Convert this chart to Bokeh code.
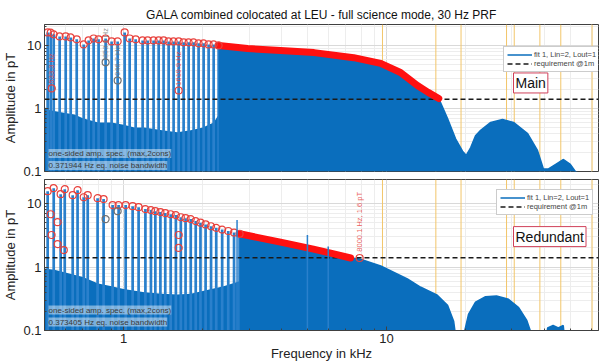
from bokeh.plotting import figure
from bokeh.layouts import column
from bokeh.models import (FixedTicker, CustomJSTickFormatter, Label, Legend,
                          LegendItem, Span, Range1d)
from bokeh.embed import file_html
from bokeh.resources import INLINE

# ---------------- texts ----------------
title_text = "GALA combined colocated at LEU - full science mode, 30 Hz PRF"
x_label = "Frequency in kHz"
y_label = "Amplitude in pT"
legend_fit = "fit 1, Lin=2, Lout=1"
legend_req = "requirement @1m"
note_line1 = "one-sided amp. spec. (max,2cons)"
main_note_line2 = "0.371944 Hz eq. noise bandwidth"
red_note_line2 = "0.373405 Hz eq. noise bandwidth"
main_tag = "Main"
red_tag = "Redundant"

# ---------------- axes ----------------
x_min_khz, x_max_khz = 0.5, 64.0
y_min_pT = 0.1
y_max_main, y_max_red = 21.5, 24.0
requirement_pT = 1.4
x_major_ticks = [1, 10]
x_minor_ticks = [0.5, 0.6, 0.7, 0.8, 0.9, 2, 3, 4, 5, 6, 7, 8, 9, 20, 30, 40, 50, 60]
y_major_ticks = [0.1, 1, 10]
y_minor_ticks = [0.2, 0.3, 0.4, 0.5, 0.6, 0.7, 0.8, 0.9, 2, 3, 4, 5, 6, 7, 8, 9, 20]

# orange marker lines (kHz)
orange_khz = [9.65, 15.4, 19.2, 28.6, 30.6, 38.3, 46.0, 60.5]

# ---------------- Main panel ----------------
main_floor_khz = [0.5, 0.52, 0.55, 0.6, 0.65, 0.7, 0.8, 0.9, 1.0, 1.1, 1.2, 1.4, 1.6, 1.8, 2.0, 2.2, 2.3]
main_floor_pT = [1.05, 0.95, 0.9, 0.85, 0.8, 0.7, 0.6, 0.6, 0.55, 0.5, 0.5, 0.45, 0.42, 0.45, 0.5, 0.6, 0.8]
main_peak_khz = [0.514, 0.528, 0.542, 0.571, 0.602, 0.629, 0.663, 0.705, 0.736, 0.769, 0.803,
                 0.854, 0.900, 0.949, 1.009, 1.054, 1.111, 1.181, 1.234, 1.300, 1.359, 1.419,
                 1.483, 1.549, 1.619, 1.691, 1.767, 1.846, 1.928, 2.015, 2.105, 2.200, 2.298]
main_peak_pT = [16.1, 16.0, 15.0, 13.9, 13.9, 13.4, 12.5, 10.4, 12.0, 12.9, 12.5,
                12.9, 11.6, 11.6, 16.1, 12.9, 12.5, 12.0, 12.0, 12.0, 12.0, 12.0,
                11.6, 11.6, 11.6, 11.2, 11.2, 11.2, 10.8, 10.8, 10.4, 10.4, 10.0]
main_env_khz = [2.3, 2.96, 3.95, 5.3, 7.5, 9.5, 11.3, 13.1, 14.4, 15.8]
main_env_pT = [10.0, 8.95, 8.3, 7.7, 6.4, 5.2, 3.73, 2.32, 1.8, 1.44]
main_tail_khz = [17.06, 18.3, 19.45, 20.1, 20.9, 21.8, 22.8, 24.9, 27.6, 30.4, 34.4, 37.5,
                 39.5, 41.3, 44.0, 47.1, 50.0, 53.2]
main_tail_pT = [0.69, 0.33, 0.21, 0.18, 0.24, 0.37, 0.45, 0.6, 0.67, 0.6, 0.4, 0.216,
                0.11, 0.11, 0.13, 0.155, 0.13, 0.09]
main_red_tip_khz = [0.533, 1.619]
main_red_tip_pT = [2.08, 1.93]
main_grey_tip_khz = [0.854, 0.949]
main_grey_tip_pT = [5.4, 2.78]
main_tip_text_khz = [0.533, 1.619, 0.854, 0.949]
main_tip_text_pT = [2.5, 2.3, 6.3, 3.3]
main_tip_text = ["533.3 Hz", "1619.9 Hz", "853.3 Hz", "946.7 Hz"]
main_tip_text_color = ["#e8413c", "#e8413c", "#777777", "#777777"]

# ---------------- Redundant panel ----------------
red_floor_khz = [0.5, 0.55, 0.6, 0.7, 0.8, 0.9, 1.0, 1.2, 1.4, 1.6, 1.8, 2.0, 2.4, 2.76]
red_floor_pT = [0.95, 0.9, 0.82, 0.7, 0.55, 0.5, 0.45, 0.4, 0.38, 0.37, 0.38, 0.42, 0.5, 0.6]
red_peak_khz = [0.514, 0.542, 0.576, 0.597, 0.640, 0.668, 0.705, 0.730, 0.796, 0.839, 0.908,
                0.957, 1.018, 1.082, 1.14, 1.21, 1.27, 1.32, 1.38, 1.44, 1.51, 1.58, 1.65,
                1.72, 1.80, 1.88, 1.96, 2.05, 2.15, 2.25, 2.37, 2.5, 2.63, 2.76]
red_peak_pT = [15.7, 17.5, 14.1, 16.9, 13.6, 16.3, 12.6, 13.6, 12.2, 11.8, 9.5,
               9.5, 9.5, 9.1, 8.8, 8.2, 7.9, 7.6, 7.35, 7.1, 6.8, 6.6, 6.1,
               5.9, 5.7, 5.3, 5.0, 4.7, 4.4, 4.15, 3.9, 3.7, 3.5, 3.35]
red_env_khz = [2.76, 3.32, 3.95, 5.27, 6.13, 7.3]
red_env_pT = [3.35, 2.86, 2.47, 1.92, 1.66, 1.39]
red_tail_khz = [7.9, 9.5, 12.0, 13.5, 15.6, 17.06, 18.0, 18.6, 19.6, 20.5, 21.8, 23.8, 26.2,
                29.1, 31.8, 34.1, 35.2, 36.0, 40.0, 41.0, 43.0, 45.0, 47.0, 48.0]
red_tail_pT = [1.34, 1.04, 0.65, 0.48, 0.36, 0.25, 0.14, 0.05, 0.08, 0.18, 0.28, 0.34, 0.35,
               0.31, 0.23, 0.146, 0.1, 0.05, 0.05, 0.11, 0.12, 0.11, 0.12, 0.05]
red_spur_khz = [2.7, 5.0, 6.0]
red_spur_pT = [5.5, 3.2, 2.1]
red_red_tip_khz = [0.528, 0.561, 0.532, 0.561, 0.592, 1.62, 1.62, 7.9]
red_red_tip_pT = [6.8, 5.1, 3.2, 2.3, 1.85, 3.2, 2.0, 1.39]
red_grey_tip_khz = [0.854, 0.949]
red_grey_tip_pT = [5.7, 7.6]
red_tip_text_khz = [7.9]
red_tip_text_pT = [1.75]
red_tip_text = ["8000.1 Hz, 1.6 pT"]
red_tip_text_color = ["#e8413c"]

# ---------------- style ----------------
FONT = "Liberation Sans"
BLUE = "#0a6ebd"
SPIKE = "#2a80cc"
RED = "#ff1010"
CIRC = "#e8413c"
GREY = "#707070"
ORANGE = "#f2c66a"


def style_axis(ax):
    ax.major_tick_in = 4
    ax.major_tick_out = 0
    ax.minor_tick_in = 2
    ax.minor_tick_out = 0
    ax.axis_line_color = "#404040"
    ax.major_tick_line_color = "#404040"
    ax.minor_tick_line_color = "#404040"
    ax.major_label_text_font = FONT
    ax.major_label_text_font_size = "13px"
    ax.major_label_text_color = "#222222"
    ax.axis_label_text_font = FONT
    ax.axis_label_text_font_size = "13px"
    ax.axis_label_text_font_style = "normal"
    ax.axis_label_text_color = "#222222"


def make_panel(height, top, bottom, y_max, floor_k, floor_v, peak_k, peak_v,
               env_k, env_v, tail_k, tail_v, red_tip, grey_tip, tips, legend_xy,
               tag, tag_xy, note2, note_y, title=None, show_x=False):
    p = figure(width=606, height=height, x_axis_type="log", y_axis_type="log",
               x_range=Range1d(x_min_khz, x_max_khz), y_range=Range1d(y_min_pT, y_max),
               output_backend="svg", toolbar_location=None, title=title,
               x_axis_location="below" if show_x else None,
               min_border_left=44, min_border_right=8, min_border_top=top,
               min_border_bottom=bottom)
    p.background_fill_color = "white"
    p.border_fill_color = "white"
    p.outline_line_color = "#404040"
    if title:
        p.title.text_font = FONT
        p.title.text_font_size = "12px"
        p.title.text_font_style = "normal"
        p.title.align = "center"
        p.title.standoff = 5
        p.title.text_color = "#111111"

    xt = FixedTicker(ticks=x_major_ticks, minor_ticks=x_minor_ticks)
    yt = FixedTicker(ticks=y_major_ticks, minor_ticks=y_minor_ticks)
    p.yaxis.ticker = yt
    p.yaxis.formatter = CustomJSTickFormatter(code="return String(tick);")
    style_axis(p.yaxis[0])
    p.yaxis.axis_label = y_label
    p.yaxis.major_label_standoff = 3
    p.yaxis.axis_label_standoff = 2
    if show_x:
        p.xaxis.ticker = xt
        p.xaxis.formatter = CustomJSTickFormatter(code="return String(tick);")
        style_axis(p.xaxis[0])
        p.xaxis.axis_label = x_label
        p.xaxis.major_label_standoff = 3
        p.xaxis.axis_label_standoff = 0
    p.xgrid[0].ticker = xt
    p.ygrid[0].ticker = yt

    for g in (p.xgrid[0], p.ygrid[0]):
        g.grid_line_color = "#d9d9d9"
        g.minor_grid_line_color = "#ededed"

    for f in orange_khz:
        p.add_layout(Span(location=f, dimension="height", line_color=ORANGE,
                          line_width=1, level="underlay"))

    # noise floor + spikes
    p.varea(x=floor_k, y1=y_min_pT, y2=floor_v, fill_color=BLUE)
    p.segment(x0=peak_k, y0=[y_min_pT] * len(peak_k), x1=peak_k, y1=peak_v,
              line_color=SPIKE, line_width=2.7)
    # main lobe and side lobes
    lobe_k = env_k + tail_k
    lobe_v = env_v + tail_v
    p.varea(x=lobe_k, y1=y_min_pT, y2=lobe_v, fill_color=BLUE)
    r_fit = p.line(lobe_k, lobe_v, line_color=BLUE, line_width=1.5)

    r_req = p.line([x_min_khz, x_max_khz], [requirement_pT, requirement_pT],
                   line_color="#1a1a1a", line_width=1.5, line_dash="5 3")

    # peak markers
    p.line(env_k, env_v, line_color=RED, line_width=7, line_cap="round", line_join="round")
    p.scatter(peak_k, peak_v, marker="circle", size=7, fill_color=None,
              line_color=CIRC, line_width=1.2)
    p.scatter(red_tip[0], red_tip[1], marker="circle", size=7, fill_color=None,
              line_color=CIRC, line_width=1.2)
    p.scatter(grey_tip[0], grey_tip[1], marker="circle", size=7, fill_color=None,
              line_color=GREY, line_width=1.2)

    for tx, ty, tt, tc in zip(*tips):
        p.add_layout(Label(x=tx, y=ty, text=tt, angle=1.5708, text_font=FONT,
                           text_font_size="7.5px", text_baseline="middle",
                           text_color=tc, text_alpha=0.85))

    legend = Legend(items=[LegendItem(label=legend_fit, renderers=[r_fit]),
                           LegendItem(label=legend_req, renderers=[r_req])],
                    location=legend_xy, label_text_font=FONT, label_text_font_size="7.5px",
                    glyph_width=25, glyph_height=9, label_height=9, label_standoff=2,
                    spacing=0, padding=3, margin=0, border_line_color="#9a9a9a",
                    background_fill_color="white", background_fill_alpha=1)
    p.add_layout(legend)

    p.add_layout(Label(x=tag_xy[0], y=tag_xy[1], text=tag, text_font=FONT,
                       text_font_size="14px", text_baseline="middle", text_color="#111111",
                       border_line_color="#d0405a", border_line_width=1,
                       background_fill_color="white", padding=2))

    p.add_layout(Label(x=0.518, y=note_y[0], text=note_line1, text_font=FONT,
                       text_font_size="8px", text_baseline="middle", text_color="#3a3a3a",
                       background_fill_color="white", background_fill_alpha=0.45))
    p.add_layout(Label(x=0.518, y=note_y[1], text=note2, text_font=FONT,
                       text_font_size="8px", text_baseline="middle", text_color="#3a3a3a",
                       background_fill_color="white", background_fill_alpha=0.45))
    return p


p1 = make_panel(179, 24, 8, y_max_main, main_floor_khz, main_floor_pT, main_peak_khz,
                main_peak_pT, main_env_khz, main_env_pT, main_tail_khz, main_tail_pT,
                (main_red_tip_khz, main_red_tip_pT), (main_grey_tip_khz, main_grey_tip_pT),
                (main_tip_text_khz, main_tip_text_pT, main_tip_text, main_tip_text_color),
                (459, 99), main_tag, (30.4, 2.54), main_note_line2, (0.193, 0.125),
                title=title_text, show_x=False)

p2 = make_panel(184, 0, 33, y_max_red, red_floor_khz, red_floor_pT, red_peak_khz,
                red_peak_pT, red_env_khz, red_env_pT, red_tail_khz, red_tail_pT,
                (red_red_tip_khz, red_red_tip_pT), (red_grey_tip_khz, red_grey_tip_pT),
                (red_tip_text_khz, red_tip_text_pT, red_tip_text, red_tip_text_color),
                (452, 115), red_tag, (30.4, 3.02), red_note_line2, (0.21, 0.136),
                title=None, show_x=True)
p2.segment(x0=red_spur_khz, y0=[y_min_pT] * len(red_spur_khz), x1=red_spur_khz,
           y1=red_spur_pT, line_color=SPIKE, line_width=1.5)

layout = column(p1, p2, spacing=0)
open("out.html", "w").write(file_html(layout, INLINE))
